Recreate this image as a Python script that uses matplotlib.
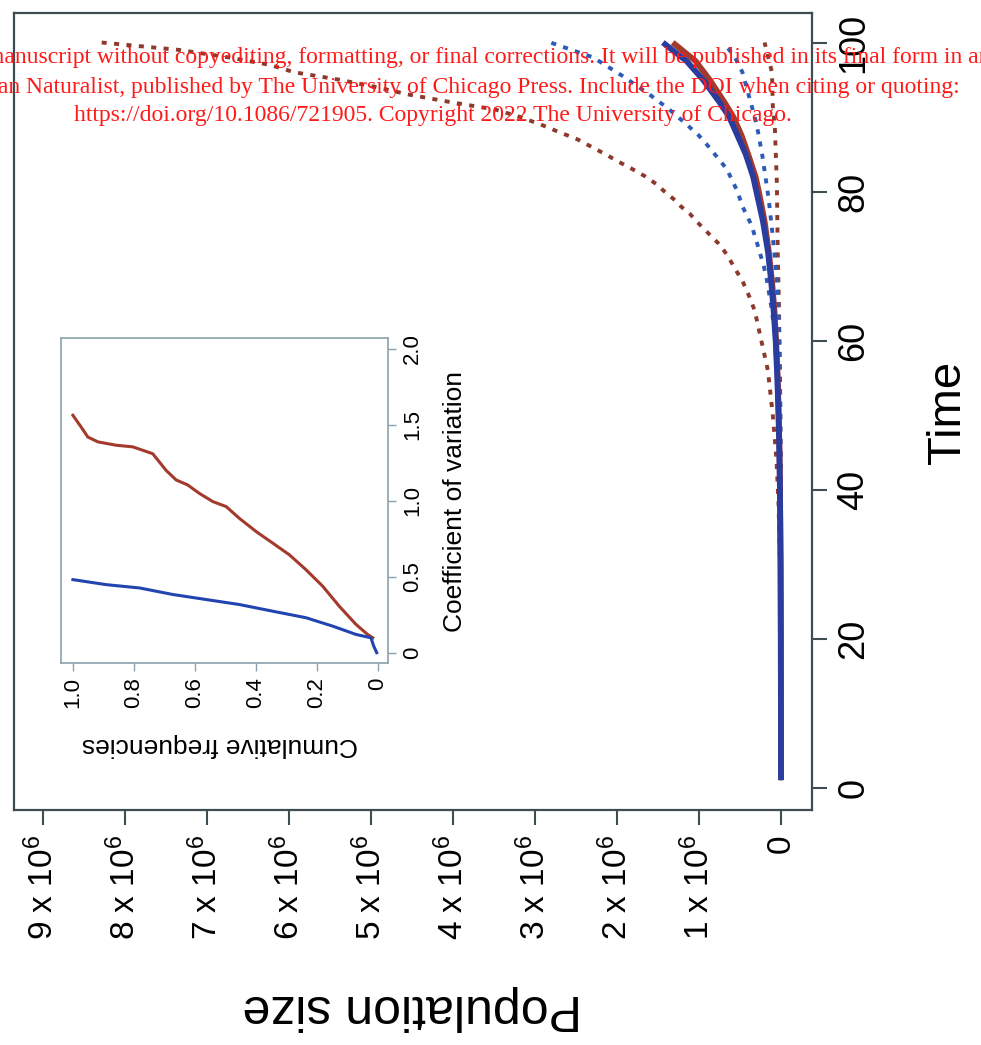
import numpy as np
import matplotlib
matplotlib.use("Agg")
import matplotlib.pyplot as plt

plt.rcParams['font.family'] = ['Liberation Sans', 'DejaVu Sans']
plt.rcParams['mathtext.default'] = 'regular'

# main panel data: population size (millions) against time
t_red_mean = [1, 10, 20, 30, 40, 45, 50, 55, 60, 64, 68, 72, 76, 80, 82, 85, 87.5, 90, 92, 95, 97.5, 100]
red_mean = [0.0001, 0.0007, 0.002, 0.005, 0.012, 0.018, 0.028, 0.04, 0.06, 0.08, 0.11, 0.15, 0.20, 0.27,
            0.31, 0.40, 0.48, 0.58, 0.69, 0.87, 1.04, 1.32]

t_blue_mean = [1, 10, 20, 30, 40, 45, 50, 55, 60, 64, 68, 72, 76, 80, 82, 85, 87.5, 90, 92, 95, 97.5, 100]
blue_mean = [0.0001, 0.0007, 0.002, 0.005, 0.013, 0.02, 0.03, 0.045, 0.065, 0.09, 0.12, 0.16, 0.22, 0.30,
             0.34, 0.43, 0.53, 0.63, 0.75, 0.95, 1.15, 1.44]

t_red_hi = [1, 10, 20, 30, 38, 44, 50, 56, 60, 62, 64, 66, 68, 70, 71, 72, 73, 74, 75, 76, 77, 78, 79, 80,
            81, 82, 83, 84, 85, 86, 87, 88, 89, 90, 91, 92, 93, 94, 95, 96, 97, 98, 99, 100]
red_hi = [0.0001, 0.001, 0.004, 0.012, 0.03, 0.055, 0.10, 0.16, 0.24, 0.28, 0.32, 0.39, 0.47, 0.58, 0.63,
          0.69, 0.76, 0.85, 0.94, 1.03, 1.11, 1.22, 1.31, 1.42, 1.52, 1.65, 1.81, 1.98, 2.14, 2.31, 2.48,
          2.71, 2.93, 3.18, 3.48, 4.03, 4.53, 4.93, 5.38, 5.93, 6.23, 6.73, 7.33, 8.28]

t_red_lo = [1, 20, 35, 45, 55, 64.7, 72, 81, 88.6, 91.5, 96, 100]
red_lo = [0.0001, 0.001, 0.003, 0.006, 0.012, 0.025, 0.04, 0.05, 0.075, 0.10, 0.11, 0.20]

t_blue_hi = [1, 10, 20, 30, 40, 50, 55, 60, 64, 68, 70, 73, 75.5, 78, 80, 83, 86, 87.5, 89, 91, 93, 95.5, 98, 100]
blue_hi = [0.0001, 0.0005, 0.0015, 0.004, 0.01, 0.025, 0.04, 0.07, 0.11, 0.17, 0.21, 0.29, 0.36, 0.47,
           0.53, 0.66, 0.88, 1.00, 1.15, 1.36, 1.60, 1.93, 2.29, 2.81]

t_blue_lo = [1, 30, 40, 48, 55, 62, 67, 71, 75, 79, 82, 85, 88, 90, 92, 94, 96, 98, 100]
blue_lo = [0.0001, 0.001, 0.003, 0.006, 0.012, 0.025, 0.045, 0.075, 0.11, 0.15, 0.19, 0.23, 0.28, 0.32,
           0.37, 0.42, 0.47, 0.56, 0.70]

pop_ticks = [0, 1, 2, 3, 4, 5, 6, 7, 8, 9]
pop_labels = ['0'] + ['%d x 10$^6$' % k for k in pop_ticks[1:]]
time_ticks = [0, 20, 40, 60, 80, 100]

# inset data: cumulative frequency against coefficient of variation
freq_red = [1.0, 0.973, 0.951, 0.918, 0.858, 0.803, 0.738, 0.694, 0.661, 0.623, 0.585, 0.541, 0.497,
            0.454, 0.399, 0.344, 0.290, 0.235, 0.180, 0.126, 0.071, 0.033, 0.016]
cv_red = [1.563, 1.486, 1.42, 1.388, 1.366, 1.355, 1.31, 1.20, 1.137, 1.104, 1.049, 0.995, 0.962,
          0.885, 0.798, 0.721, 0.645, 0.546, 0.437, 0.306, 0.186, 0.12, 0.098]
freq_blue = [1.0, 0.891, 0.781, 0.672, 0.563, 0.454, 0.344, 0.235, 0.148, 0.071, 0.022, 0.013, 0.003]
cv_blue = [0.481, 0.448, 0.426, 0.383, 0.35, 0.317, 0.273, 0.23, 0.175, 0.12, 0.098, 0.044, 0.0]
freq_ticks = [0, 0.2, 0.4, 0.6, 0.8, 1.0]
freq_labels = ['0', '0.2', '0.4', '0.6', '0.8', '1.0']
cv_ticks = [0, 0.5, 1.0, 1.5, 2.0]
cv_labels = ['0', '0.5', '1.0', '1.5', '2.0']

RED = '#a33a2b'
BLUE = '#2a3c9e'
BLUE_DOT = '#2c5cb8'
RED_DOT = '#8c3a2c'
SPINE = '#3d4d52'

W, H = 981, 1045
fig = plt.figure(figsize=(W / 100, H / 100), dpi=100)

# the whole chart is drawn turned a quarter turn: population runs right to left, time runs upward
ax = fig.add_axes([13.8 / W, 1 - 809.6 / H, 797.8 / W, 796.6 / H])
dot = (0, (1.3, 1.9))
ax.plot(np.array(red_hi) * 1e6, t_red_hi, color=RED_DOT, lw=2.8, ls=dot)
ax.plot(np.array(red_lo) * 1e6, t_red_lo, color=RED_DOT, lw=2.8, ls=dot)
ax.plot(np.array(blue_hi) * 1e6, t_blue_hi, color=BLUE_DOT, lw=2.8, ls=dot)
ax.plot(np.array(blue_lo) * 1e6, t_blue_lo, color=BLUE_DOT, lw=2.8, ls=dot)
ax.plot(np.array(red_mean) * 1e6, t_red_mean, color=RED, lw=4.2, solid_capstyle='butt')
ax.plot(np.array(blue_mean) * 1e6, t_blue_mean, color=BLUE, lw=4.2, solid_capstyle='butt')

ax.set_xlim(9.35e6, -0.373e6)
ax.set_ylim(-2.96, 103.96)
ax.set_xticks([k * 1e6 for k in pop_ticks])
ax.set_xticklabels(pop_labels)
ax.set_yticks(time_ticks)
ax.yaxis.tick_right()
ax.tick_params(axis='x', direction='out', length=11, width=1.5, color=SPINE, labelsize=24,
               labelrotation=90, pad=7)
ax.tick_params(axis='y', direction='out', length=11, width=1.5, color=SPINE, labelsize=26,
               labelrotation=90, pad=7)
for lab in ax.get_yticklabels():
    lab.set_va('center')
for sp in ax.spines.values():
    sp.set_color(SPINE)
    sp.set_linewidth(1.6)

fig.text(948 / W, 1 - 412 / H, 'Time', rotation=90, ha='center', va='center', fontsize=34)
fig.text(412 / W, 1 - 1008 / H, 'Population size', rotation=180, ha='center', va='center', fontsize=36)

# inset
ins = fig.add_axes([60.7 / W, 1 - 663.3 / H, 327.6 / W, 325 / H])
ins.plot(freq_red, cv_red, color=RED, lw=2.2)
ins.plot(freq_blue, cv_blue, color='#2244b0', lw=2.2)
ins.set_xlim(1.04, -0.035)
ins.set_ylim(-0.07, 2.07)
ins.set_xticks(freq_ticks)
ins.set_xticklabels(freq_labels)
ins.set_yticks(cv_ticks)
ins.set_yticklabels(cv_labels)
ins.yaxis.tick_right()
ins.tick_params(axis='x', direction='out', length=6, width=1, color='#8aa2ae', labelsize=16,
                labelrotation=90, pad=4)
ins.tick_params(axis='y', direction='out', length=6, width=1, color='#8aa2ae', labelsize=16,
                labelrotation=90, pad=4)
for lab in ins.get_yticklabels():
    lab.set_va('center')
for sp in ins.spines.values():
    sp.set_color('#8aa2ae')
    sp.set_linewidth(1.2)
fig.text(455 / W, 1 - 501 / H, 'Coefficient of variation', rotation=90, ha='center', va='center', fontsize=19)
fig.text(220 / W, 1 - 745 / H, 'Cumulative frequencies', rotation=180, ha='center', va='center', fontsize=19)

# publisher stamp across the top
stamp = dict(color='#ff1a1a', fontsize=17, family='Liberation Serif', va='center')
fig.text(-14 / W, 1 - 57 / H, 'manuscript without copyediting, formatting, or final corrections. '
         'It will be published in its final form in an upcoming issue of The', ha='left', **stamp)
fig.text(960 / W, 1 - 87 / H, 'American Naturalist, published by The University of Chicago Press. '
         'Include the DOI when citing or quoting:', ha='right', **stamp)
fig.text(433 / W, 1 - 115 / H, 'https://doi.org/10.1086/721905. Copyright 2022 The University of Chicago.',
         ha='center', **stamp)

fig.savefig('out.png', dpi=100)
